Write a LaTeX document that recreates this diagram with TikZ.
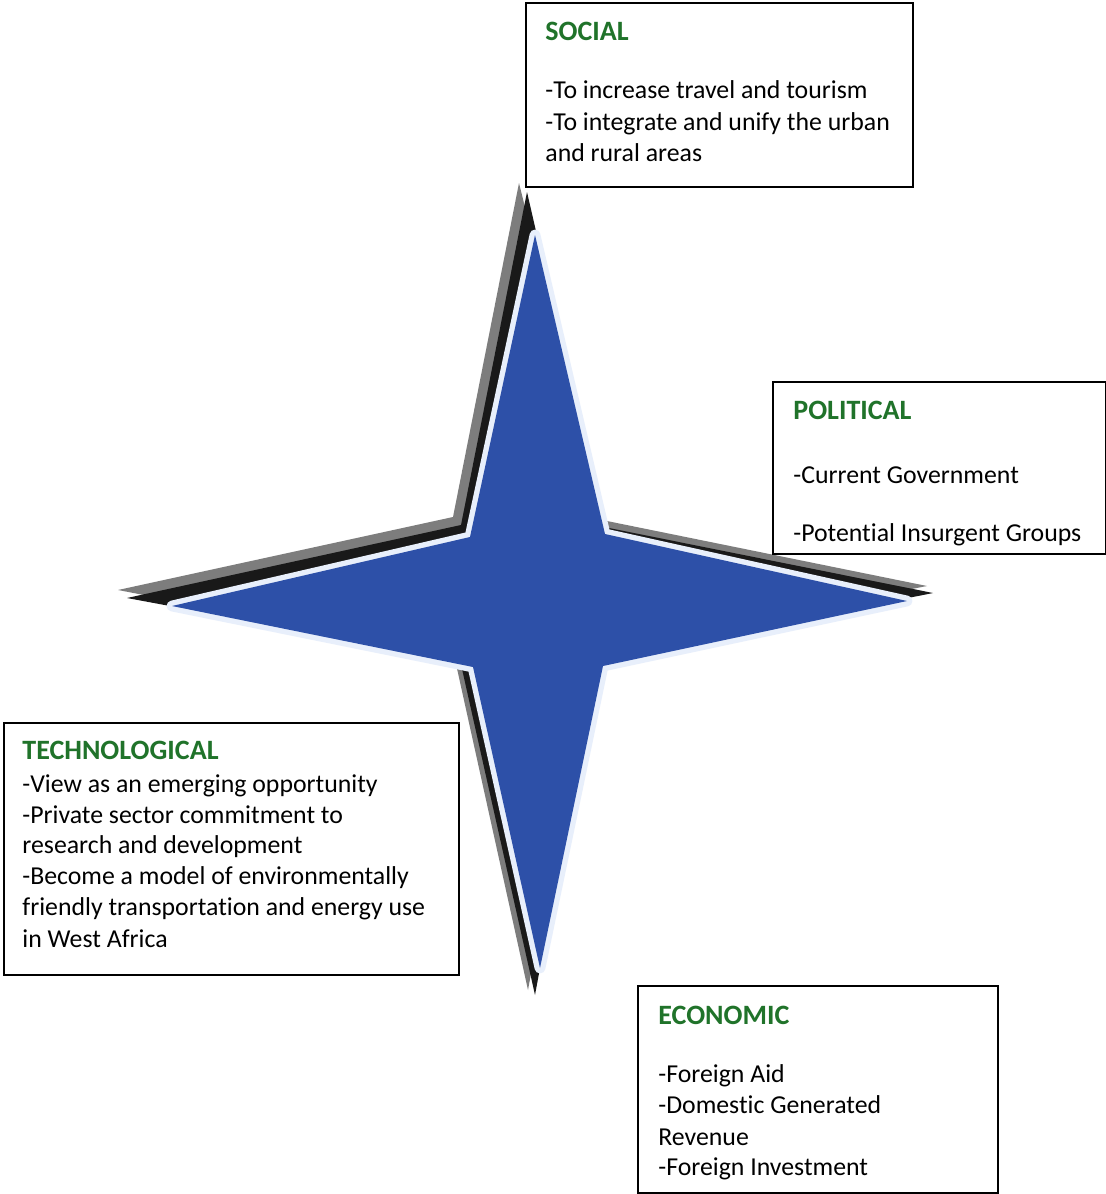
\documentclass[tikz,border=0pt]{standalone}
\usepackage{fontspec}
\setmainfont[Ligatures=NoCommon]{Carlito}
\definecolor{starblue}{RGB}{45,80,168}
\definecolor{halo}{RGB}{232,239,251}
\definecolor{shgray}{RGB}{125,125,125}
\definecolor{shblack}{RGB}{25,25,25}
\definecolor{titlegreen}{RGB}{32,115,42}
\tikzset{
  boxst/.style={draw=black, line width=1.1pt, anchor=north west, inner sep=0pt, fill=white},
  bodytxt/.style={anchor=base west, inner sep=0pt, font=\fontsize{12.9}{15}\selectfont, text=black},
  titletxt/.style={anchor=base west, inner sep=0pt, font=\fontsize{14}{16}\selectfont\bfseries, text=titlegreen},
}
\begin{document}
\begin{tikzpicture}[x=0.5pt,y=-0.5pt]
\useasboundingbox (0,0) rectangle (1106,1194);
\fill[white] (0,0) rectangle (1106,1194);
% star shadows
\fill[shgray] (519,183) -- (602,520) -- (927,586) -- (590,652) -- (528,990) -- (454,655) -- (118,590) -- (453,517) -- cycle;
\fill[shblack] (527,192) -- (604,527) -- (933,593) -- (597,660) -- (535,995) -- (460,660) -- (127,598) -- (461,525) -- cycle;
% halo and blue star
\draw[halo, line width=5.4pt, line join=round] (535,235) -- (605,534) -- (907,601) -- (603,666) -- (540,968) -- (473,667) -- (172,606) -- (470,537) -- cycle;
\fill[starblue] (535,235) -- (605,534) -- (907,601) -- (603,666) -- (540,968) -- (473,667) -- (172,606) -- (470,537) -- cycle;
% boxes
\node[boxst, minimum width=193.5pt, minimum height=92pt] (social) at (525,2) {};
\node[boxst, minimum width=166.5pt, minimum height=86pt] (political) at (772,381) {};
\node[boxst, minimum width=227.5pt, minimum height=126pt] (tech) at (3,722) {};
\node[boxst, minimum width=180pt, minimum height=103.5pt] (econ) at (637,985) {};
% social text
\node[titletxt] (socT) at (545,40) {SOCIAL};
\node[bodytxt] (soc1) at (545,98) {-To increase travel and tourism};
\node[bodytxt] (soc2) at (545,130) {-To integrate and unify the urban};
\node[bodytxt] (soc3) at (545,161) {and rural areas};
% political text
\node[titletxt] (polT) at (793,419) {POLITICAL};
\node[bodytxt] (pol1) at (793,483) {-Current Government};
\node[bodytxt] (pol2) at (793,541) {-Potential Insurgent Groups};
% technological text
\node[titletxt] (tecT) at (22,759) {TECHNOLOGICAL};
\node[bodytxt] (tec1) at (22,792) {-View as an emerging opportunity};
\node[bodytxt] (tec2) at (22,823) {-Private sector commitment to};
\node[bodytxt] (tec3) at (22,853) {research and development};
\node[bodytxt] (tec4) at (22,884) {-Become a model of environmentally};
\node[bodytxt] (tec5) at (22,915) {friendly transportation and energy use};
\node[bodytxt] (tec6) at (22,947) {in West Africa};
% economic text
\node[titletxt] (ecoT) at (658,1024) {ECONOMIC};
\node[bodytxt] (eco1) at (658,1082) {-Foreign Aid};
\node[bodytxt] (eco2) at (658,1113) {-Domestic Generated};
\node[bodytxt] (eco3) at (658,1145) {Revenue};
\node[bodytxt] (eco4) at (658,1175) {-Foreign Investment};
\end{tikzpicture}
\end{document}
